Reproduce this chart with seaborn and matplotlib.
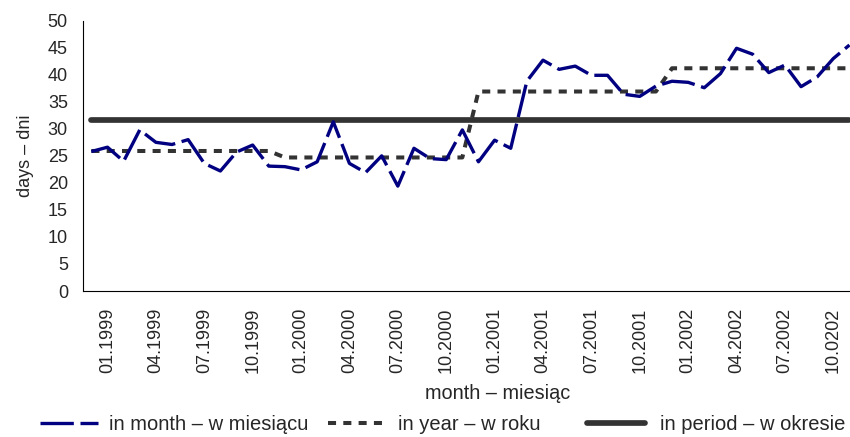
import matplotlib
matplotlib.use("Agg")
import matplotlib.pyplot as plt
import seaborn as sns
import numpy as np
import pandas as pd

# monthly values 01.1999 - 12.2002
in_month = [25.8, 26.6, 24.0, 29.8, 27.5, 27.1, 28.0, 23.6, 22.2, 25.7, 27.0, 23.1,
            23.0, 22.4, 23.9, 31.3, 23.6, 21.9, 25.0, 19.4, 26.4, 24.5, 24.3, 29.8,
            23.9, 27.9, 26.4, 38.8, 42.7, 41.0, 41.6, 39.9, 39.9, 36.4, 36.0, 37.9,
            38.8, 38.6, 37.6, 40.2, 44.9, 43.8, 40.4, 41.8, 37.8, 39.6, 43.0, 45.5]
years = [1999, 2000, 2001, 2002]
in_year = [25.9, 24.7, 36.9, 41.2]
in_period = 31.6
tick_labels = ["01.1999", "04.1999", "07.1999", "10.1999",
               "01.2000", "04.2000", "07.2000", "10.2000",
               "01.2001", "04.2001", "07.2001", "10.2001",
               "01.2002", "04.2002", "07.2002", "10.0202"]

df = pd.DataFrame({"month": np.arange(len(in_month)), "in_month": in_month})
df["in_year"] = np.repeat(in_year, 12)
df["in_period"] = in_period

sns.set_style("white")
plt.rcParams["font.family"] = ["Liberation Sans", "DejaVu Sans"]
plt.rcParams["font.size"] = 13

W, H = 850, 437
fig = plt.figure(figsize=(W / 100, H / 100), dpi=100)
x0, x1, ytop, ybot = 83.3, 857.5, 20.7, 291.0
ax = fig.add_axes([x0 / W, (H - ybot) / H, (x1 - x0) / W, (ybot - ytop) / H])

navy = "#000080"
grey = "#333333"
sns.lineplot(data=df, x="month", y="in_period", ax=ax, color=grey, lw=4.1,
             label="in period – w okresie", zorder=2)
sns.lineplot(data=df, x="month", y="in_year", ax=ax, color=grey, lw=2.9,
             linestyle=(0, (2, 1.8)), label="in year – w roku", zorder=3)
sns.lineplot(data=df, x="month", y="in_month", ax=ax, color=navy, lw=2.4,
             linestyle=(0, (10, 2)), label="in month – w miesiącu", zorder=4)

ax.set_xlim(-0.5, 47.5)
ax.set_ylim(0, 50)
ax.set_yticks(np.arange(0, 51, 5))
ax.set_xticks(np.arange(-0.5, 48, 3))
ax.set_xticklabels([])
ax.set_xticks(np.arange(1, 48, 3), minor=True)
ax.set_xticklabels(tick_labels, minor=True, rotation=90)
ax.tick_params(axis="x", which="minor", length=0, pad=12)
ax.tick_params(axis="x", which="major", length=3.6, width=0.8, color="black", direction="out")
ax.tick_params(axis="y", length=3.6, width=0.8, color="black", direction="out", pad=7.5)
ax.tick_params(labelsize=13)

for s in ["top", "right"]:
    ax.spines[s].set_visible(False)
for s in ["left", "bottom"]:
    ax.spines[s].set_color("black")
    ax.spines[s].set_linewidth(0.8)

ax.set_xlabel("month – miesiąc", fontsize=14.3)
ax.xaxis.set_label_coords(0.535, -0.344)
ax.set_ylabel("days – dni", fontsize=13)
ax.yaxis.set_label_coords(-0.064, 0.5)

handles, labels = ax.get_legend_handles_labels()
ax.get_legend().remove()
# one legend entry per position, as in the reference
entries = [(2, 40, 0.55), (1, 328, 0.6), (0, 587, 0.75)]
for idx, xpos, tpad in entries:
    fig.legend([handles[idx]], [labels[idx]], loc="center left",
               bbox_to_anchor=(xpos / W, 12 / H), frameon=False, fontsize=14.5,
               handlelength=2.88, handletextpad=tpad, borderpad=0, borderaxespad=0)

fig.savefig("out.png", dpi=100)
